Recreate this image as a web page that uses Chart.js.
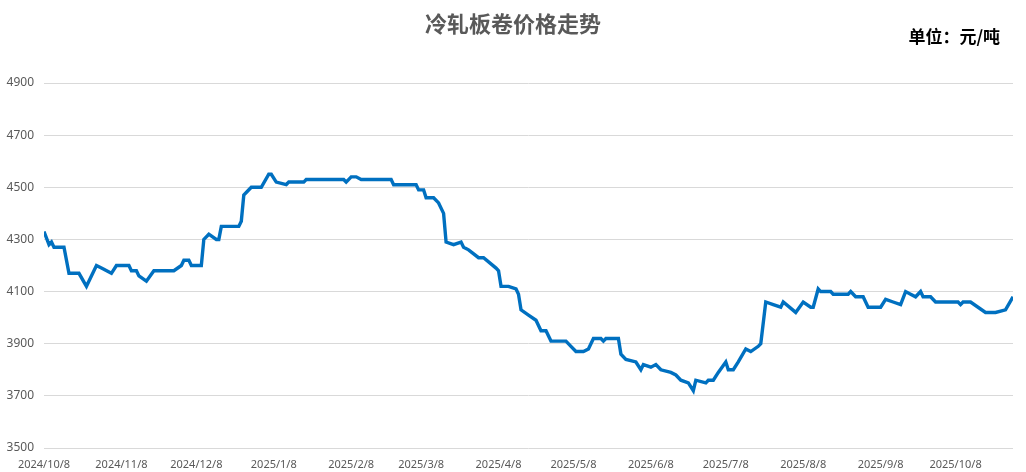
<!DOCTYPE html>
<html>
<head>
<meta charset="utf-8">
<script src="https://cdn.jsdelivr.net/npm/chart.js@4.4.1/dist/chart.umd.min.js"></script>
<style>
    body { margin: 0; background: #fff; }
    #wrap { position: relative; width: 1026px; height: 472px; }
    #title {
        position: absolute; left: 0; top: 6px; width: 1026px; text-align: center;
        font-family: "Noto Sans CJK SC", sans-serif; font-weight: bold; font-size: 22px; color: #595959;
    }
    #unit {
        position: absolute; right: 26px; top: 23px;
        font-family: "Noto Sans CJK SC", sans-serif; font-weight: bold; font-size: 17px; color: #000;
    }
</style>
</head>
<body>
<div id="wrap">
    <canvas id="priceChart"></canvas>
    <div id="title">冷轧板卷价格走势</div>
    <div id="unit">单位：元/吨</div>
</div>
<script>
const dates = [
    "2024-10-08", "2024-10-10", "2024-10-11", "2024-10-12", "2024-10-16", "2024-10-18", "2024-10-22", "2024-10-25",
    "2024-10-29", "2024-10-31", "2024-11-04", "2024-11-06", "2024-11-11", "2024-11-12", "2024-11-14", "2024-11-15",
    "2024-11-18", "2024-11-21", "2024-11-29", "2024-12-02", "2024-12-03", "2024-12-05", "2024-12-06", "2024-12-10",
    "2024-12-11", "2024-12-13", "2024-12-16", "2024-12-17", "2024-12-18", "2024-12-25", "2024-12-26", "2024-12-27",
    "2024-12-30", "2025-01-03", "2025-01-06", "2025-01-07", "2025-01-09", "2025-01-13", "2025-01-14", "2025-01-20",
    "2025-01-21", "2025-02-05", "2025-02-06", "2025-02-08", "2025-02-10", "2025-02-12", "2025-02-24", "2025-02-25",
    "2025-03-06", "2025-03-07", "2025-03-09", "2025-03-10", "2025-03-13", "2025-03-15", "2025-03-17", "2025-03-18",
    "2025-03-21", "2025-03-24", "2025-03-25", "2025-03-27", "2025-03-31", "2025-04-02", "2025-04-07", "2025-04-08",
    "2025-04-09", "2025-04-12", "2025-04-15", "2025-04-16", "2025-04-17", "2025-04-20", "2025-04-23", "2025-04-25",
    "2025-04-27", "2025-04-29", "2025-05-05", "2025-05-07", "2025-05-09", "2025-05-12", "2025-05-14", "2025-05-16",
    "2025-05-19", "2025-05-20", "2025-05-21", "2025-05-26", "2025-05-27", "2025-05-29", "2025-06-02", "2025-06-04",
    "2025-06-05", "2025-06-08", "2025-06-10", "2025-06-12", "2025-06-16", "2025-06-18", "2025-06-20", "2025-06-23",
    "2025-06-25", "2025-06-26", "2025-06-30", "2025-07-01", "2025-07-03", "2025-07-05", "2025-07-08", "2025-07-09",
    "2025-07-11", "2025-07-13", "2025-07-16", "2025-07-18", "2025-07-21", "2025-07-22", "2025-07-24", "2025-07-27",
    "2025-07-30", "2025-07-31", "2025-08-05", "2025-08-08", "2025-08-11", "2025-08-12", "2025-08-14", "2025-08-15",
    "2025-08-19", "2025-08-20", "2025-08-26", "2025-08-27", "2025-08-29", "2025-09-01", "2025-09-03", "2025-09-08",
    "2025-09-10", "2025-09-13", "2025-09-16", "2025-09-18", "2025-09-20", "2025-09-22", "2025-09-24", "2025-09-25",
    "2025-09-28", "2025-09-30", "2025-10-09", "2025-10-10", "2025-10-11", "2025-10-14", "2025-10-20", "2025-10-24",
    "2025-10-28", "2025-10-31"
];

const prices = [
    4330, 4280, 4290, 4270, 4270, 4170, 4170, 4120,
    4200, 4190, 4170, 4200, 4200, 4180, 4180, 4160,
    4140, 4180, 4180, 4200, 4220, 4220, 4200, 4200,
    4300, 4320, 4300, 4300, 4350, 4350, 4370, 4470,
    4500, 4500, 4550, 4550, 4520, 4510, 4520, 4520,
    4530, 4530, 4520, 4540, 4540, 4530, 4530, 4510,
    4510, 4490, 4490, 4460, 4460, 4440, 4400, 4290,
    4280, 4290, 4270, 4260, 4230, 4230, 4190, 4180,
    4120, 4120, 4110, 4090, 4030, 4010, 3990, 3950,
    3950, 3910, 3910, 3890, 3870, 3870, 3880, 3920,
    3920, 3910, 3920, 3920, 3860, 3840, 3830, 3800,
    3820, 3810, 3820, 3800, 3790, 3780, 3760, 3750,
    3720, 3760, 3750, 3760, 3760, 3790, 3830, 3800,
    3800, 3830, 3880, 3870, 3890, 3900, 4060, 4050,
    4040, 4060, 4020, 4060, 4040, 4040, 4110, 4100,
    4100, 4090, 4090, 4100, 4080, 4080, 4040, 4040,
    4070, 4060, 4050, 4100, 4090, 4080, 4100, 4080,
    4080, 4060, 4060, 4050, 4060, 4060, 4020, 4020,
    4030, 4080
];

const tickLabels = [
    "2024/10/8", "2024/11/8", "2024/12/8", "2025/1/8", "2025/2/8", "2025/3/8", "2025/4/8",
    "2025/5/8", "2025/6/8", "2025/7/8", "2025/8/8", "2025/9/8", "2025/10/8"
];

const yTicks = [3500, 3700, 3900, 4100, 4300, 4500, 4700, 4900];

// days since the first date, so the x scale is a plain linear one
const start = Date.UTC(2024, 9, 8);
function dayOf(y, m, d) {
    return Math.round((Date.UTC(y, m - 1, d) - start) / 86400000);
}

const points = dates.map((s, i) => {
    const p = s.split("-").map(Number);
    return { x: dayOf(p[0], p[1], p[2]), y: prices[i] };
});

const tickDays = tickLabels.map(s => {
    const p = s.split("/").map(Number);
    return dayOf(p[0], p[1], p[2]);
});

const lastDay = points[points.length - 1].x;

const ctx = document.getElementById("priceChart").getContext("2d");
const priceChart = new Chart(ctx, {
    type: "line",
    data: {
        datasets: [{
            label: "冷轧板卷",
            data: points,
            borderColor: "#0070C0",
            borderWidth: 3.4,
            pointRadius: 0,
            tension: 0,
            fill: false
        }]
    },
    options: {
        responsive: true,
        maintainAspectRatio: false,
        animation: false,
        layout: {
            padding: { top: 83, right: 13, left: 0, bottom: 0 }
        },
        plugins: {
            legend: { display: false },
            title: { display: false },
            tooltip: { enabled: false }
        },
        scales: {
            x: {
                type: "linear",
                min: 0,
                max: lastDay,
                grid: { display: false, drawTicks: false },
                border: { display: false },
                afterBuildTicks: axis => {
                    axis.ticks = tickDays.map(v => ({ value: v }));
                },
                afterFit: axis => { axis.height = 24; },
                ticks: {
                    autoSkip: false,
                    maxRotation: 0,
                    padding: 10,
                    color: "#595959",
                    font: { family: "Noto Sans", size: 11 },
                    callback: (value) => {
                        const i = tickDays.indexOf(value);
                        return i >= 0 ? tickLabels[i] : "";
                    }
                }
            },
            y: {
                min: yTicks[0],
                max: yTicks[yTicks.length - 1],
                afterBuildTicks: axis => {
                    axis.ticks = yTicks.map(v => ({ value: v }));
                },
                afterFit: axis => { axis.width = 44; },
                grid: { color: "#d9d9d9", lineWidth: 1, drawTicks: false },
                border: { display: false },
                ticks: {
                    padding: 10,
                    color: "#595959",
                    font: { family: "Noto Sans", size: 12 },
                    callback: value => String(value)
                }
            }
        }
    }
});
</script>
</body>
</html>
